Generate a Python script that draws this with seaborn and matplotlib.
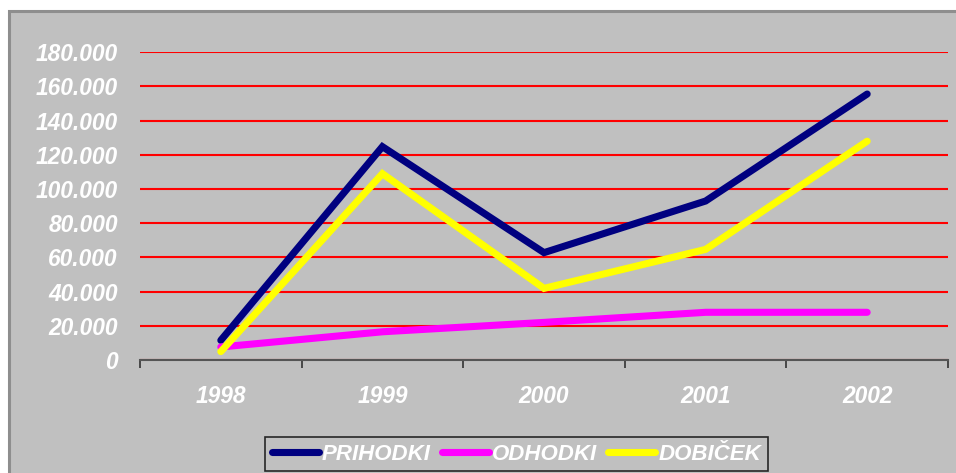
import matplotlib
matplotlib.use("Agg")
import matplotlib.pyplot as plt
from matplotlib.patches import Rectangle
from matplotlib.ticker import FuncFormatter, FixedLocator
import seaborn as sns
import pandas as pd

years = ["1998", "1999", "2000", "2001", "2002"]
prihodki = [11500, 124800, 62800, 93000, 155600]
odhodki = [7600, 16500, 22000, 27900, 27900]
dobicek = [4900, 109000, 41900, 64700, 128000]
series_names = ["PRIHODKI", "ODHODKI", "DOBIČEK"]
colors = ["#000080", "#FF00FF", "#FFFF00"]
y_ticks = [0, 20000, 40000, 60000, 80000, 100000, 120000, 140000, 160000, 180000]

df = pd.DataFrame({
    "year": years * 3,
    "value": prihodki + odhodki + dobicek,
    "series": [series_names[0]] * 5 + [series_names[1]] * 5 + [series_names[2]] * 5,
})

sns.set_theme(style="white")
plt.rcParams["font.family"] = ["Liberation Sans", "DejaVu Sans"]

W, H = 956, 473
fig = plt.figure(figsize=(W / 100, H / 100), dpi=100)
fig.patch.set_facecolor("white")
# gray chart area with darker border (background axes)
bg = fig.add_axes([0, 0, 1, 1], zorder=-10)
bg.set_axis_off()
bg.set_xlim(0, W)
bg.set_ylim(H, 0)
bg.add_patch(Rectangle((9.5, 11.5), W + 20, H + 20, facecolor="#C0C0C0",
                       edgecolor="#8E8E8E", linewidth=2.2))

ax = fig.add_axes([140 / W, 1 - 360 / H, (948 - 140) / W, (360 - 52.3) / H])
ax.set_facecolor("none")

sns.lineplot(data=df, x="year", y="value", hue="series", hue_order=series_names,
             palette=colors, linewidth=5.1, sort=False, ax=ax,
             solid_capstyle="round", solid_joinstyle="miter", zorder=3)

ax.set_xlim(-0.5, 4.5)
ax.set_ylim(0, 180000)
ax.yaxis.set_major_locator(FixedLocator(y_ticks))
ax.yaxis.set_major_formatter(FuncFormatter(lambda v, p: f"{int(v):,}".replace(",", ".")))
ax.grid(axis="y", color="#FF0000", linewidth=1.5, zorder=1)
ax.grid(axis="x", visible=False)
ax.set_axisbelow(True)
for s in ["top", "right", "left"]:
    ax.spines[s].set_visible(False)
ax.spines["bottom"].set_color("#555555")
ax.spines["bottom"].set_linewidth(1.5)
ax.spines["bottom"].set_zorder(2)

ax.xaxis.set_minor_locator(FixedLocator([-0.5, 0.5, 1.5, 2.5, 3.5, 4.5]))
ax.tick_params(axis="x", which="minor", length=6, width=1.2, color="#333333", direction="out", bottom=True)
ax.tick_params(axis="x", which="major", length=0, pad=18)
ax.tick_params(axis="y", length=0, pad=16)
ax.set_xlabel("")
ax.set_ylabel("")

for lbl in ax.get_xticklabels() + ax.get_yticklabels():
    lbl.set_color("white")
    lbl.set_fontsize(16.4)
    lbl.set_fontweight("bold")
    lbl.set_fontstyle("italic")

sns.move_legend(ax, loc="center", bbox_to_anchor=(516.5 / W, 1 - 454 / H),
                bbox_transform=fig.transFigure, ncol=3, title=None, frameon=True,
                handlelength=2.1, handletextpad=0.15, columnspacing=0.5,
                borderpad=0.3, borderaxespad=0, fancybox=False,
                prop={"family": ["Liberation Sans", "DejaVu Sans"], "weight": "bold",
                      "style": "italic", "size": 16})
leg = ax.get_legend()
leg.get_frame().set_facecolor("#C0C0C0")
leg.get_frame().set_edgecolor("black")
leg.get_frame().set_linewidth(1.2)
for t in leg.get_texts():
    t.set_color("white")
for h in leg.get_lines():
    h.set_linewidth(5.1)
    h.set_solid_capstyle("round")

fig.savefig("out.png", dpi=100, facecolor="white")
